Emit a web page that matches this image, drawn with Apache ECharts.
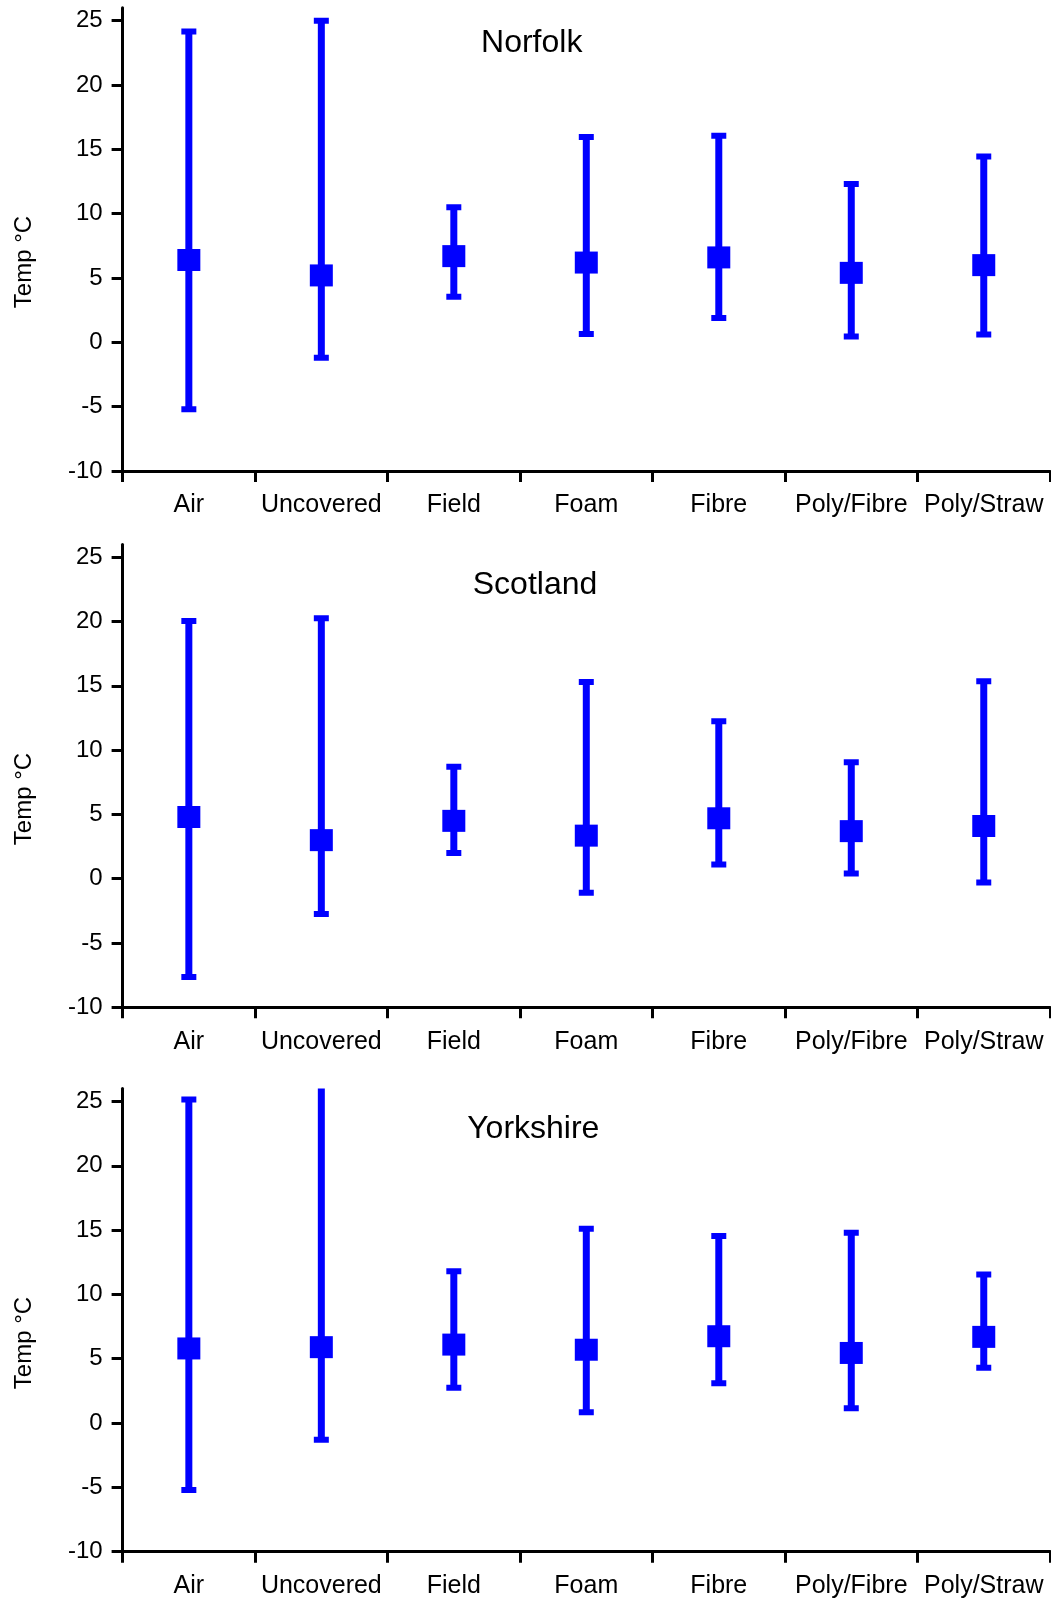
<!DOCTYPE html>
<html>
<head>
<meta charset="utf-8">
<script src="https://cdn.jsdelivr.net/npm/echarts@6/dist/echarts.min.js"></script>
<style>
html,body{margin:0;padding:0;background:#fff;}
#chart{width:1051px;height:1601px;}
</style>
</head>
<body>
<div id="chart"></div>
<script>
const categories = ['Air', 'Uncovered', 'Field', 'Foam', 'Fibre', 'Poly/Fibre', 'Poly/Straw'];
const panelTitles = ['Norfolk', 'Scotland', 'Yorkshire'];
const yTicks = [-10, -5, 0, 5, 10, 15, 20, 25];
const yAxisName = 'Temp °C';

const norfolkMean = [6.4, 5.2, 6.7, 6.2, 6.6, 5.4, 6.0];
const norfolkMin  = [-5.2, -1.2, 3.55, 0.65, 1.9, 0.45, 0.6];
const norfolkMax  = [24.15, 25.0, 10.5, 15.95, 16.05, 12.3, 14.45];

const scotlandMean = [4.8, 3.0, 4.5, 3.35, 4.7, 3.7, 4.1];
const scotlandMin  = [-7.65, -2.75, 2.0, -1.1, 1.1, 0.4, -0.3];
const scotlandMax  = [20.05, 20.25, 8.7, 15.3, 12.25, 9.05, 15.35];

const yorkshireMean = [5.8, 5.9, 6.1, 5.7, 6.75, 5.45, 6.7];
const yorkshireMin  = [-5.2, -1.3, 2.75, 0.85, 3.1, 1.15, 4.3];
const yorkshireMax  = [25.15, 27, 11.8, 15.1, 14.55, 14.8, 11.55];

const panels = [
  {mean: norfolkMean, min: norfolkMin, max: norfolkMax},
  {mean: scotlandMean, min: scotlandMin, max: scotlandMax},
  {mean: yorkshireMean, min: yorkshireMin, max: yorkshireMax}
];

// layout (pixels)
const gridTops = [7.8, 544.4, 1088.6];
const gridHeights = [463.2, 462.9, 463.1];
const titleCenters = [[531.7, 43], [535, 585], [533.3, 1129]];
const nameCenters = [262, 799, 1343];
const FONT = '"Liberation Sans", Arial, sans-serif';
const BLUE = '#0000ff';

const chart = echarts.init(document.getElementById('chart'), null, {renderer: 'canvas'});

const grids = [], xAxes = [], yAxes = [], series = [], graphics = [];

panels.forEach((p, i) => {
  grids.push({left: 122.6, right: 1, top: gridTops[i], height: gridHeights[i], containLabel: false});
  xAxes.push({
    type: 'category', gridIndex: i, data: categories, boundaryGap: true,
    axisLine: {show: true, onZero: false, lineStyle: {color: '#000', width: 3}},
    axisTick: {show: true, length: 11, lineStyle: {color: '#000', width: 3}, alignWithLabel: false},
    axisLabel: {interval: 0, fontSize: 25, color: '#000', fontFamily: FONT, margin: 22, hideOverlap: false},
    splitLine: {show: false}
  });
  yAxes.push({
    type: 'value', gridIndex: i, min: -10, max: 26,
    axisLine: {show: true, lineStyle: {color: '#000', width: 3}},
    axisTick: {show: true, length: 11, lineStyle: {color: '#000', width: 3}, customValues: yTicks},
    axisLabel: {fontSize: 24, color: '#000', fontFamily: FONT, margin: 20, customValues: yTicks},
    splitLine: {show: false}
  });
  graphics.push({
    type: 'text', x: titleCenters[i][0], y: titleCenters[i][1],
    style: {text: panelTitles[i], font: '32px ' + FONT, fill: '#000', textAlign: 'center', textVerticalAlign: 'middle'}
  });
  graphics.push({
    type: 'text', x: 24, y: nameCenters[i], rotation: Math.PI / 2,
    style: {text: yAxisName, font: '24px ' + FONT, fill: '#000', textAlign: 'center', textVerticalAlign: 'middle'}
  });
  series.push({
    type: 'custom', xAxisIndex: i, yAxisIndex: i, clip: true,
    encode: {x: 0, y: [1, 2]},
    data: categories.map((c, k) => [k, p.min[k], p.max[k]]),
    renderItem: function (params, api) {
      const lo = api.coord([api.value(0), api.value(1)]);
      const hi = api.coord([api.value(0), api.value(2)]);
      const x = lo[0];
      const style = {fill: BLUE};
      return {
        type: 'group',
        children: [
          {type: 'rect', shape: {x: x - 3.5, y: hi[1], width: 7, height: lo[1] - hi[1]}, style: style},
          {type: 'rect', shape: {x: x - 7.5, y: hi[1] - 3, width: 15, height: 6}, style: style},
          {type: 'rect', shape: {x: x - 7.5, y: lo[1] - 3, width: 15, height: 6}, style: style}
        ]
      };
    },
    silent: true, z: 2
  });
  series.push({
    type: 'scatter', xAxisIndex: i, yAxisIndex: i,
    data: categories.map((c, k) => [k, p.mean[k]]),
    symbol: 'rect', symbolSize: [23, 22],
    itemStyle: {color: BLUE, opacity: 1},
    silent: true, z: 3
  });
});

chart.setOption({
  animation: false,
  backgroundColor: '#fff',
  grid: grids,
  xAxis: xAxes,
  yAxis: yAxes,
  series: series,
  graphic: graphics
});
</script>
</body>
</html>
